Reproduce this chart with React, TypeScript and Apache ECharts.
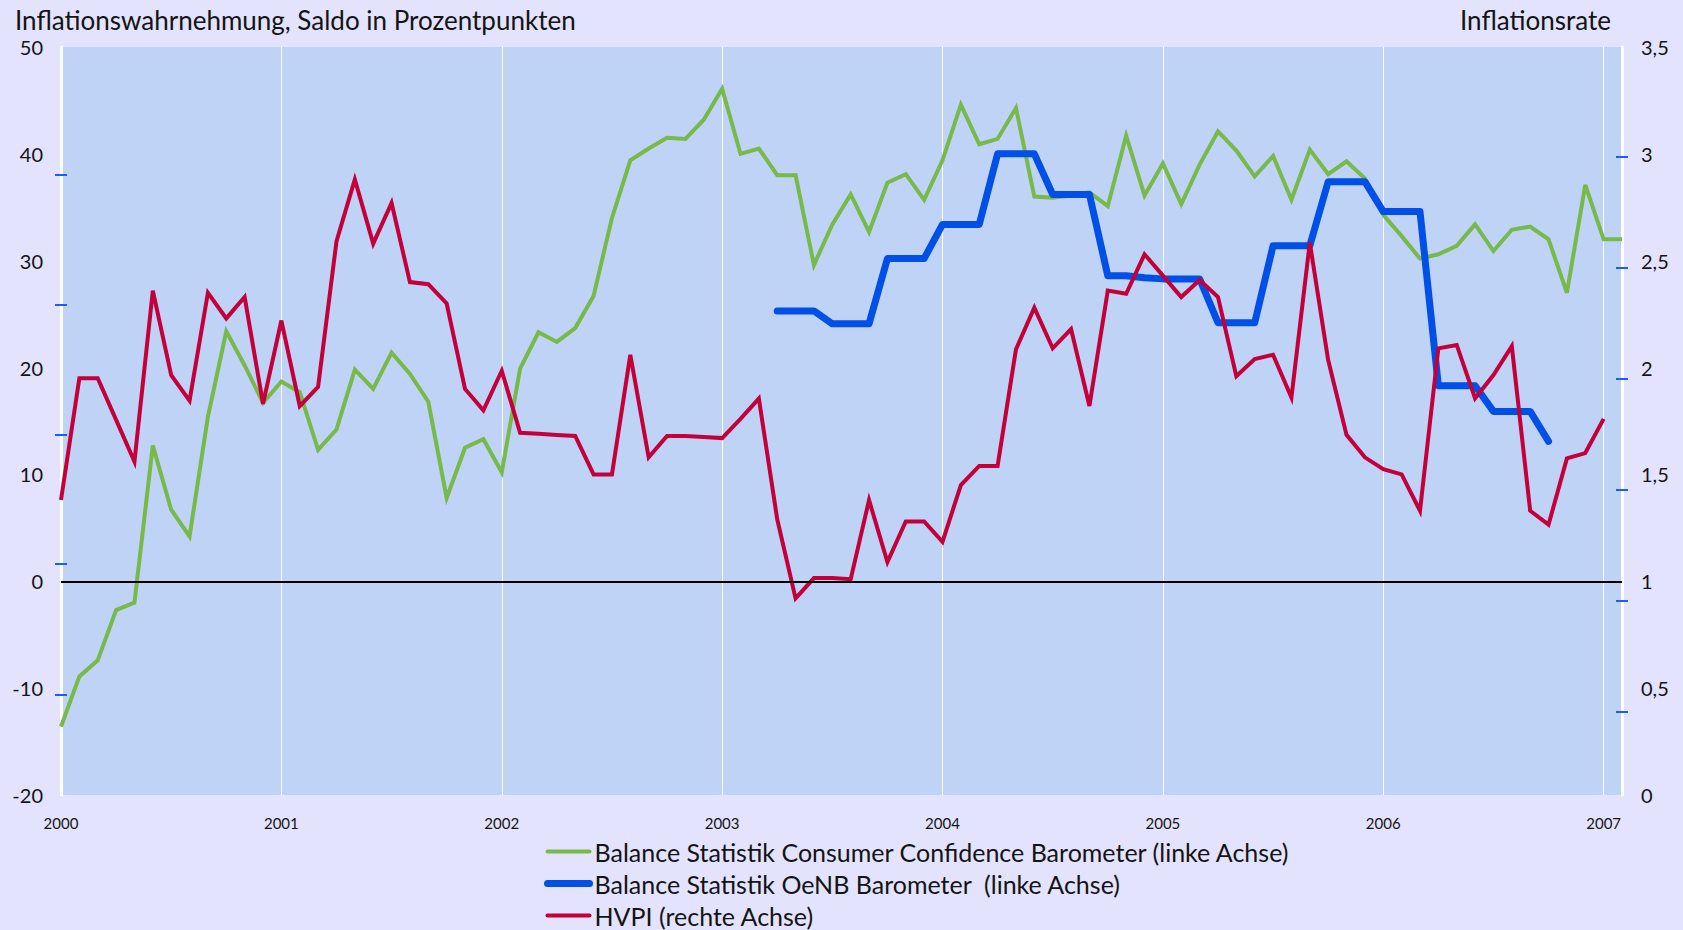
import React, { useEffect, useRef } from 'react';
import * as echarts from 'echarts';

// Monthly data, Jan 2000 = index 0
const START_YEAR = 2000;
const X_MAX = 85; // Feb 2007

// Balance Statistik Consumer Confidence Barometer (left axis)
const consumerConfidence = [
  -13.6, -8.9, -7.4, -2.7, -2.0, 12.7, 6.7, 4.2, 15.4, 23.4, 20.2, 16.7,
  18.7, 17.7, 12.3, 14.2, 19.8, 18.0, 21.4, 19.4, 16.8, 7.8, 12.5, 13.3,
  10.2, 19.9, 23.3, 22.4, 23.7, 26.7, 34.0, 39.4, 40.5, 41.5, 41.4, 43.2,
  46.1, 40.0, 40.5, 38.0, 38.0, 29.6, 33.4, 36.2, 32.7, 37.3, 38.1, 35.7,
  39.4, 44.6, 40.9, 41.4, 44.3, 36.0, 35.9, 36.1, 36.4, 35.1, 41.7, 36.1,
  39.1, 35.3, 39.0, 42.1, 40.3, 37.9, 39.8, 35.7, 40.4, 38.1, 39.3, 37.7,
  34.3, 32.3, 30.2, 30.6, 31.4, 33.4, 30.9, 32.9, 33.2, 32.0, 27.0, 37.1,
  32.0, 32.0,
];

// Balance Statistik OeNB Barometer (left axis), starts April 2003 (index 39)
const OENB_START = 39;
const oenbBarometer = [
  25.3, 25.3, 25.3, 24.1, 24.1, 24.1, 30.2, 30.2, 30.2, 33.4, 33.4, 33.4,
  40.0, 40.0, 40.0, 36.2, 36.2, 36.2, 28.6, 28.6, 28.4, 28.3, 28.3, 28.3,
  24.2, 24.2, 24.2, 31.4, 31.4, 31.4, 37.4, 37.4, 37.4, 34.6, 34.6, 34.6,
  18.3, 18.3, 18.3, 15.9, 15.9, 15.9, 13.1,
];

// HVPI (right axis)
const hvpi = [
  1.38, 1.95, 1.95, 1.755, 1.56, 2.36, 1.965, 1.845, 2.35, 2.23, 2.33, 1.83,
  2.22, 1.82, 1.91, 2.59, 2.88, 2.58, 2.77, 2.40, 2.39, 2.30, 1.90, 1.80,
  1.985, 1.695, 1.69, 1.685, 1.68, 1.50, 1.50, 2.06, 1.58, 1.68, 1.68, 1.675,
  1.67, 1.76, 1.855, 1.29, 0.92, 1.015, 1.015, 1.01, 1.38, 1.09, 1.28, 1.28,
  1.185, 1.45, 1.54, 1.54, 2.085, 2.28, 2.09, 2.18, 1.82, 2.36, 2.345, 2.53,
  2.43, 2.33, 2.41, 2.33, 1.96, 2.04, 2.06, 1.86, 2.585, 2.035, 1.685, 1.58,
  1.525, 1.50, 1.33, 2.09, 2.106, 1.856, 1.965, 2.10, 1.33, 1.265, 1.575, 1.60,
  1.76,
];

// Odd tick marks found on the axes of the original
const leftTickValues = [38.0, 25.85, 13.7, 1.6, -10.6];
const rightTickValues = [2.985, 2.466, 1.946, 1.427, 0.907, 0.388];

const SERIES_NAMES = [
  'Balance Statistik Consumer Confidence Barometer (linke Achse)',
  'Balance Statistik OeNB Barometer  (linke Achse)',
  'HVPI (rechte Achse)',
];

const TITLE_LEFT = 'Inflationswahrnehmung, Saldo in Prozentpunkten';
const TITLE_RIGHT = 'Inflationsrate';

const FONT = 'Lato';
const TEXT = '#141414';
const GREEN = '#78b94a';
const BLUE = '#0050e8';
const RED = '#c3003a';
const TICK_BLUE = '#1f5cff';

const LINE_WIDTHS = [4, 7, 4];

export default function App() {
  const ref = useRef<HTMLDivElement>(null);

  useEffect(() => {
    document.body.style.margin = '0';
    document.body.style.overflow = 'hidden';
    const chart = echarts.init(ref.current!, null, { renderer: 'svg' });

    const toPairs = (arr: number[], start = 0) => arr.map((v, i) => [start + i, v]);

    const hiddenY = (position: 'left' | 'right', min: number, max: number, ticks: number[]) => ({
      type: 'value',
      position,
      min,
      max,
      axisLine: { show: false },
      axisLabel: { show: false },
      splitLine: { show: false },
      axisTick: {
        show: true,
        inside: true,
        length: 6,
        customValues: ticks,
        lineStyle: { color: TICK_BLUE, width: 2 },
      },
    });

    const titleStyle = { fontFamily: FONT, fontWeight: 'normal', fontSize: 26, color: TEXT };

    const option: any = {
      animation: false,
      backgroundColor: '#e3e3fe',
      textStyle: { fontFamily: FONT },
      title: [
        { text: TITLE_LEFT, left: 10, top: 2, textStyle: titleStyle },
        { text: TITLE_RIGHT, right: 67, top: 2, textStyle: titleStyle },
      ],
      legend: {
        orient: 'vertical',
        left: 544,
        top: 839,
        padding: 0,
        itemWidth: 42,
        itemHeight: 8,
        itemGap: 7,
        data: SERIES_NAMES.map((name, i) => ({
          name,
          lineStyle: { width: LINE_WIDTHS[i], cap: 'round' },
        })),
        itemStyle: { opacity: 0 },
        lineStyle: { cap: 'round' },
        textStyle: { fontFamily: FONT, fontSize: 25, lineHeight: 25, color: TEXT },
      },
      grid: {
        left: 61,
        right: 61,
        top: 47,
        bottom: 135,
        show: true,
        backgroundColor: '#bfd3f7',
        borderWidth: 0,
      },
      xAxis: {
        type: 'value',
        min: 0,
        max: X_MAX,
        interval: 12,
        axisLine: { show: false },
        axisTick: { show: false },
        splitLine: { show: true, lineStyle: { color: '#ffffff', width: 1 } },
        axisLabel: {
          margin: 20,
          fontSize: 15,
          fontFamily: FONT,
          color: TEXT,
          formatter: (v: number) => (v % 12 === 0 ? String(START_YEAR + v / 12) : ''),
        },
      },
      yAxis: [
        {
          type: 'value',
          position: 'left',
          min: -20,
          max: 50,
          interval: 10,
          axisLine: { show: true, lineStyle: { color: '#ffffff', width: 3 } },
          splitLine: { show: false },
          axisTick: {
            show: true,
            length: 6,
            customValues: leftTickValues,
            lineStyle: { color: TICK_BLUE, width: 2 },
          },
          axisLabel: { margin: 18, fontSize: 20, fontFamily: FONT, color: TEXT },
        },
        {
          type: 'value',
          position: 'right',
          min: 0,
          max: 3.5,
          interval: 0.5,
          axisLine: { show: true, lineStyle: { color: '#ffffff', width: 3 } },
          splitLine: { show: false },
          axisTick: {
            show: true,
            length: 6,
            customValues: rightTickValues,
            lineStyle: { color: TICK_BLUE, width: 2 },
          },
          axisLabel: {
            margin: 19,
            fontSize: 20,
            fontFamily: FONT,
            color: TEXT,
            formatter: (v: number) => String(v).replace('.', ','),
          },
        },
        hiddenY('left', -20, 50, leftTickValues),
        hiddenY('right', 0, 3.5, rightTickValues),
      ],
      series: [
        {
          name: SERIES_NAMES[0],
          type: 'line',
          yAxisIndex: 0,
          data: toPairs(consumerConfidence),
          showSymbol: false,
          symbol: 'none',
          lineStyle: { color: GREEN, width: LINE_WIDTHS[0], join: 'miter' },
          itemStyle: { color: GREEN },
          markLine: {
            silent: true,
            symbol: 'none',
            label: { show: false },
            lineStyle: { color: '#000000', width: 2, type: 'solid' },
            data: [{ yAxis: 0 }],
          },
        },
        {
          name: SERIES_NAMES[1],
          type: 'line',
          yAxisIndex: 0,
          data: toPairs(oenbBarometer, OENB_START),
          showSymbol: false,
          symbol: 'none',
          lineStyle: { color: BLUE, width: LINE_WIDTHS[1], cap: 'round', join: 'round' },
          itemStyle: { color: BLUE },
        },
        {
          name: SERIES_NAMES[2],
          type: 'line',
          yAxisIndex: 1,
          data: toPairs(hvpi),
          showSymbol: false,
          symbol: 'none',
          lineStyle: { color: RED, width: LINE_WIDTHS[2], join: 'miter' },
          itemStyle: { color: RED },
        },
      ],
    };

    chart.setOption(option);
    return () => chart.dispose();
  }, []);

  return <div ref={ref} style={{ width: 1683, height: 930 }} />;
}
